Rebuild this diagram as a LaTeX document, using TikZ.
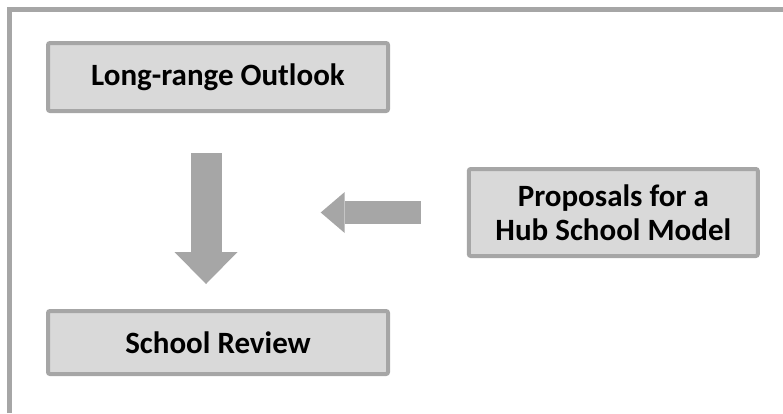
\documentclass[tikz,border=0pt]{standalone}
\usepackage{fontspec}
\setmainfont{Carlito}
\usetikzlibrary{arrows.meta}
\definecolor{boxfill}{HTML}{D9D9D9}
\definecolor{boxline}{HTML}{A6A6A6}
\tikzset{
  stagebox/.style={draw=boxline,fill=boxfill,line width=4pt,rounded corners=2pt,
    align=center,inner sep=0pt,font=\fontsize{31}{34}\selectfont\bfseries},
  bigarrow/.style={draw=boxline,line width=31pt,
    -{Triangle[length=32pt,width=63pt,line width=0pt]}},
  sidearrow/.style={draw=boxline,line width=23pt,
    -{Triangle[length=24pt,width=41pt,line width=0pt]}},
  frameline/.style={draw=boxline,line width=5pt}
}
\begin{document}
\begin{tikzpicture}[x=1pt,y=-1pt]
\useasboundingbox (0,0) rectangle (783,413);
\draw[frameline] (9.5,413) -- (9.5,9.5) -- (783,9.5);
\node[stagebox,minimum width=340pt,minimum height=68pt] (longrange) at (218,77) {Long-range Outlook};
\node[stagebox,minimum width=340pt,minimum height=63pt] (review) at (218,342.5) {School Review};
\node[stagebox,minimum width=289pt,minimum height=87pt] (proposals) at (613.3,212.5) {Proposals for a\\Hub School Model};
\coordinate (join) at (320.7,212.5);
\draw[bigarrow,shorten <=40pt,shorten >=25pt] ([xshift=-12pt]longrange.south) -- ([xshift=-12pt]review.north);
\draw[sidearrow,shorten <=46pt] (proposals.west) -- (join);
\end{tikzpicture}
\end{document}
